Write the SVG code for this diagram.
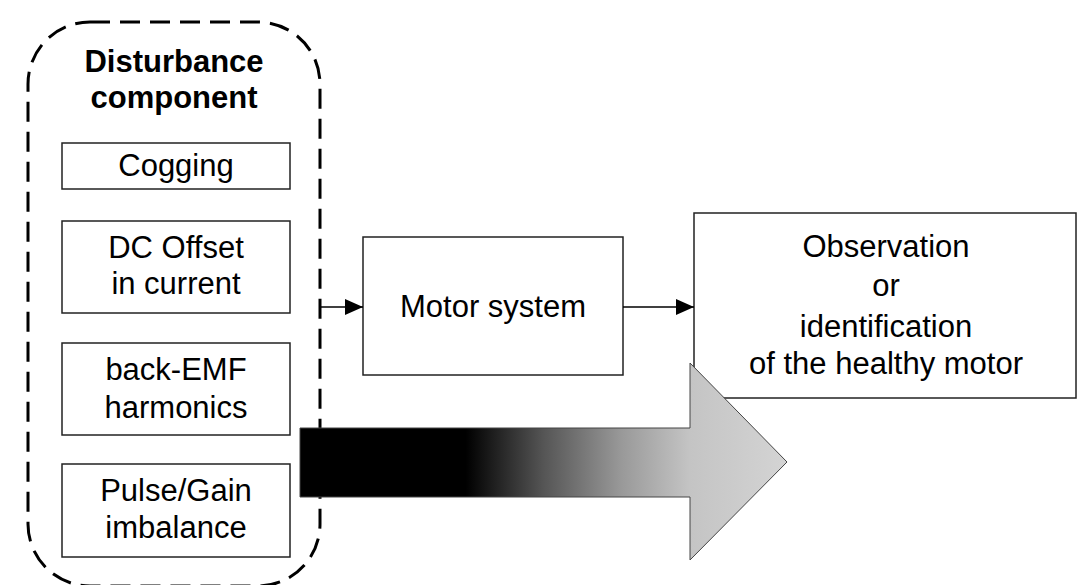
<svg xmlns="http://www.w3.org/2000/svg" width="1078" height="585" viewBox="0 0 1078 585">
  <style>
    .box { fill: #fff; stroke: #222; stroke-width: 1.5; }
    .lbl { font-family: "Liberation Sans", Arial, sans-serif; font-size: 31px; fill: #000; text-anchor: middle; }
    .ttl { font-weight: bold; }
    .wire { fill: none; stroke: #000; stroke-width: 1.5; }
  </style>
  <defs>
    <marker id="head" markerWidth="18" markerHeight="16" refX="18" refY="8" orient="auto" markerUnits="userSpaceOnUse">
      <path d="M0,0 L18,8 L0,16 Z" fill="#000"/>
    </marker>
    <linearGradient id="fade" x1="300" y1="0" x2="787" y2="0" gradientUnits="userSpaceOnUse">
      <stop offset="0" stop-color="#000"/>
      <stop offset="0.34" stop-color="#000"/>
      <stop offset="0.5" stop-color="#555"/>
      <stop offset="0.66" stop-color="#999"/>
      <stop offset="0.8" stop-color="#c4c4c4"/>
      <stop offset="1" stop-color="#d4d4d4"/>
    </linearGradient>
  </defs>

  <!-- disturbance group boundary -->
  <g id="disturbance">
    <rect x="28" y="22" width="292" height="564" rx="62" ry="62" fill="none" stroke="#000" stroke-width="3" stroke-dasharray="20 10"/>
    <text class="lbl ttl" x="174" y="72">Disturbance</text>
    <text class="lbl ttl" x="174" y="108">component</text>
  </g>

  <g id="cogging">
    <rect class="box" x="62" y="143" width="228" height="46"/>
    <text class="lbl" x="176" y="176">Cogging</text>
  </g>

  <g id="dc-offset">
    <rect class="box" x="62" y="221" width="228" height="92"/>
    <text class="lbl" x="176" y="258">DC Offset</text>
    <text class="lbl" x="176" y="294">in current</text>
  </g>

  <g id="back-emf">
    <rect class="box" x="62" y="343" width="228" height="92"/>
    <text class="lbl" x="176" y="380">back-EMF</text>
    <text class="lbl" x="176" y="418">harmonics</text>
  </g>

  <g id="pulse-gain">
    <rect class="box" x="62" y="464" width="228" height="93"/>
    <text class="lbl" x="176" y="501">Pulse/Gain</text>
    <text class="lbl" x="176" y="538">imbalance</text>
  </g>

  <g id="motor">
    <rect class="box" x="363" y="237" width="260" height="138"/>
    <text class="lbl" x="493" y="317">Motor system</text>
  </g>

  <g id="observation">
    <rect class="box" x="694" y="213" width="382" height="185"/>
    <text class="lbl" x="886" y="257">Observation</text>
    <text class="lbl" x="886" y="296">or</text>
    <text class="lbl" x="886" y="337">identification</text>
    <text class="lbl" x="886" y="374">of the healthy motor</text>
  </g>

  <g id="connectors">
    <path class="wire" d="M320,307 H363" marker-end="url(#head)"/>
    <path class="wire" d="M623,307 H694" marker-end="url(#head)"/>
    <!-- broad shaded arrow -->
    <path d="M300,428 H690 V363 L787,462 L690,560 V497 H300 Z" fill="url(#fade)" stroke="#444" stroke-width="1"/>
  </g>
</svg>
